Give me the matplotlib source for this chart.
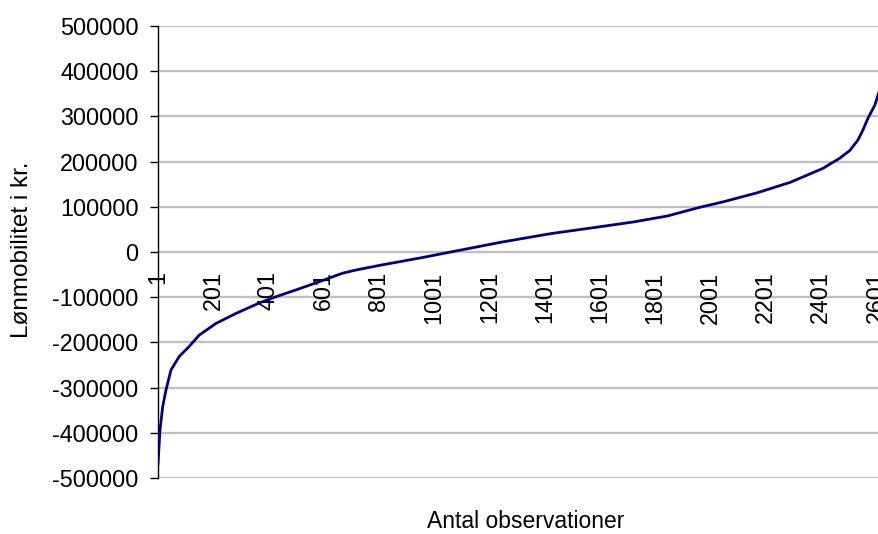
import matplotlib
matplotlib.use("Agg")
import matplotlib.pyplot as plt
import numpy as np

plt.rcParams['font.family'] = ['Liberation Sans', 'DejaVu Sans']

obs = [1, 8, 18, 30, 48, 78, 114, 150, 211, 283, 367, 428, 500, 584, 669,
       717, 808, 952, 1061, 1242, 1422, 1603, 1722, 1845, 1964, 2048, 2171,
       2290, 2409, 2471, 2507, 2536, 2554, 2572, 2597, 2612]
loen = [-470000, -395000, -342000, -305000, -261000, -231000, -209000,
        -184000, -158000, -136000, -113000, -99000, -84000, -66000, -47000,
        -40000, -29000, -13000, 0, 21500, 40500, 56000, 66400, 79600, 99000,
        111000, 131000, 154000, 185000, 208000, 225000, 248000, 270000,
        296000, 325000, 354000]
xticks = list(range(1, 2602, 200))
yticks = list(range(-500000, 500001, 100000))

fig = plt.figure(figsize=(8.79, 5.34), dpi=100)
ax = fig.add_axes([158/879, 1-478/534, 1-158/879, (478-26)/534])

# category axis crosses at 0 (do this before styling the ticks)
ax.spines['bottom'].set_position(('data', 0))
ax.spines['bottom'].set_color('none')
ax.spines['top'].set_visible(False)
ax.spines['right'].set_visible(False)
ax.spines['left'].set_linewidth(1.0)

for v in yticks:
    ax.axhline(v, color='#c0c0c0', lw=1.7, zorder=1)
ax.plot(obs, loen, color='#000080', lw=2.0, zorder=3)

ax.set_xlim(1, 2612)
ax.set_ylim(-500000, 500000)
ax.set_yticks(yticks)
ax.set_yticklabels([str(v) for v in yticks], fontsize=16.8)
ax.set_xticks(xticks)
ax.set_xticklabels([str(v) for v in xticks], rotation=90, fontsize=16.8, va='top')
ax.tick_params(axis='x', length=0, pad=14)
ax.tick_params(axis='y', length=6, width=1.0, pad=8)

fig.text(22/879, 1-250/534, 'Lønmobilitet i kr.', rotation=90,
         ha='center', va='center', fontsize=17.5)
fig.text(526/879, 1-522/534, 'Antal observationer', ha='center',
         va='center', fontsize=16.5)

fig.savefig('out.png', dpi=100)
